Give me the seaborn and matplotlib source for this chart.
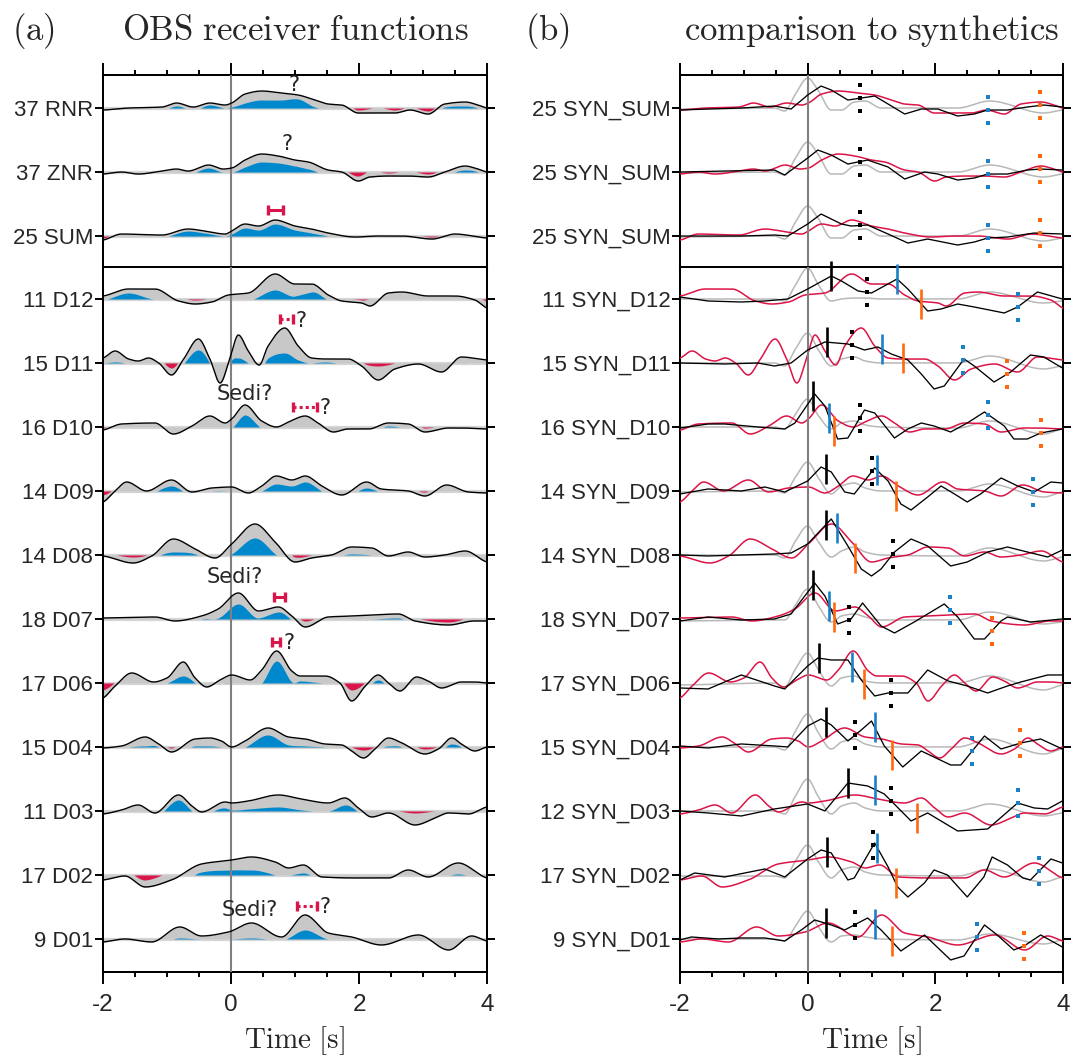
import numpy as np
import pandas as pd
import matplotlib
matplotlib.use("Agg")
import matplotlib.pyplot as plt
import seaborn as sns

# ---------------------------------------------------------------
# Receiver functions (panel a).  Times in s, amplitudes in plot units
# (ROW units = spacing between traces), *_E = confidence half-width.
# ---------------------------------------------------------------
ROW = 64.0

LABELS_A_TOP = ["37 RNR", "37 ZNR", "25 SUM"]
LABELS_A_BOT = ["11 D12", "15 D11", "16 D10", "14 D09", "14 D08", "18 D07",
                "17 D06", "15 D04", "11 D03", "17 D02", "9 D01"]
LABELS_B_TOP = ["25 SYN_SUM", "25 SYN_SUM", "25 SYN_SUM"]
LABELS_B_BOT = ["11 SYN_D12", "15 SYN_D11", "16 SYN_D10", "14 SYN_D09", "14 SYN_D08",
                "18 SYN_D07", "17 SYN_D06", "15 SYN_D04", "12 SYN_D03", "17 SYN_D02",
                "9 SYN_D01"]

RNR_T = [-2.0, -1.60, -1.08, -0.85, -0.59, -0.33, -0.09, 0.01, 0.22, 0.48, 0.79, 1.05, 1.31, 1.52, 1.73, 1.99, 2.30, 2.56, 2.80, 3.08, 3.34, 3.66, 3.86, 4.0]
RNR_A = [-2, 0, 1, 5, 1, 5, 3, 5, 14, 17, 15, 13, 8, 4, 3, -5, -5, -5, -2, -6, 4, 6, 3, 0]
RNR_E = [3, 3, 3, 3, 3, 2, 3, 4, 9, 9, 7, 4, 7, 5, 4, 3, 5.5, 3, 3, 3, 3, 4, 3, 3]

ZNR_T = [-2.0, -1.71, -1.45, -1.08, -0.85, -0.67, -0.35, -0.12, 0.01, 0.22, 0.48, 0.74, 1.0, 1.21, 1.52, 1.73, 1.99, 2.17, 2.46, 2.77, 3.08, 3.34, 3.66, 3.81, 4.0]
ZNR_A = [-2, 0, -2, 1, 3, 1, 7, 3, 4, 12, 18, 16, 12, 10, 2, 0, -9, -5, -4, -4, -5, 0, 6, 4, 0]
ZNR_E = [3, 3, 3, 3, 3, 3, 3, 3, 4, 7, 8, 7, 6, 7, 5, 3, 5, 6, 3, 5, 3, 3, 4, 3, 3]

SUM_T = [-2.0, -1.71, -1.08, -0.67, -0.41, -0.09, 0.01, 0.22, 0.43, 0.69, 1.0, 1.26, 1.52, 1.94, 2.30, 2.67, 3.14, 3.50, 4.0]
SUM_A = [-4, 2, 1, 7, 5, 2, 5, 12, 10, 16, 10, 7, 3, -1, 0, 0, -3, 2, -2]
SUM_E = [2, 2, 2, 2, 2, 2, 3, 4, 4, 4, 4, 4, 3, 3, 3, 3, 2, 2, 2]

D12_T = [-2.0, -1.60, -1.19, -0.82, -0.56, -0.30, -0.04, 0.27, 0.69, 1.0, 1.26, 1.52, 1.73, 2.04, 2.17, 2.46, 2.67, 3.08, 3.50, 3.81, 4.0]
D12_A = [3, 10, 10, -2, -5, -3, 4, 6, 25, 15, 15, 4, -2, -4, -7, 6, 7, 3, 3, -1, -9]
D12_E = [4, 4, 10, 4, 4, 4, 5, 7, 16, 12, 8, 5, 3, 3, 7, 7, 7, 4, 4, 4, 7]

D11_T = [-2.0, -1.81, -1.60, -1.45, -1.29, -1.13, -0.93, -0.74, -0.51, -0.33, -0.17, -0.02, 0.115, 0.27, 0.44, 0.58, 0.84, 1.05, 1.26, 1.47, 1.83, 2.04, 2.30, 2.56, 2.93, 3.29, 3.60, 4.0]
D11_A = [5, 12, 4, 2, 5, 0, -12, 4, 24, 4, -20, 4, 28, 12, -2, 17, 35, 17, 5, 4, 4, -3, -17, -6, -1, -9, 6, 3]
D11_E = [5, 11, 5, 5, 5, 5, 7, 5, 11, 5, 21, 5, 23, 12, 5, 12, 25, 14, 5, 3, 5, 4, 14, 6, 5, 9, 6, 5]

D10_T = [-2.0, -1.71, -1.19, -0.90, -0.61, -0.33, -0.09, 0.01, 0.22, 0.48, 0.71, 0.90, 1.16, 1.36, 1.60, 1.83, 2.15, 2.46, 2.77, 3.03, 3.40, 3.60, 4.0]
D10_A = [-3, 3, 4, -7, 1, 11, 4, 8, 22, 6, 0, 5, 11, 4, -5, -2, -2, 4, 3, -5, -1, -1, -2]
D10_E = [2, 4, 5, 7, 4, 12, 5, 9, 10, 7, 4, 6, 12, 5, 5, 3, 3, 3, 4, 4, 3, 3, 3]

D09_T = [-2.0, -1.81, -1.63, -1.32, -0.93, -0.61, -0.30, 0.01, 0.27, 0.48, 0.71, 0.95, 1.16, 1.42, 1.73, 2.12, 2.35, 2.77, 3.03, 3.37, 3.71, 4.0]
D09_A = [-11, 0, 9, 0, 11, -1, 3, 4, -2, 5, 15, 11, 15, 5, -4, 9, 2, 0, -5, 6, -1, -2]
D09_E = [7, 3, 9, 3, 6, 3, 3, 4, 3, 5, 8, 6, 6, 5, 4, 6, 3, 3, 4, 6, 3, 3]

D08_T = [-2.0, -1.53, -1.24, -0.90, -0.56, -0.25, 0.01, 0.375, 0.69, 1.0, 1.26, 1.57, 1.885, 2.2, 2.46, 2.77, 3.03, 3.34, 3.66, 4.0]
D08_A = [-1, -8, -1, 16, 6, -3, 11, 31, 13, -7, -3, 0, 8, 7, -1, 3, -2, 0, 4, -7]
D08_E = [3, 6, 3, 13, 5, 3, 10, 14, 12, 5, 3, 3, 7, 7, 3, 3, 3, 3, 4, 7]

D07_T = [-2.0, -1.19, -0.875, -0.46, -0.20, 0.115, 0.43, 0.74, 0.95, 1.16, 1.52, 1.885, 2.2, 2.615, 2.875, 3.40, 3.80, 4.0]
D07_A = [1, 2, -2, 3, 10, 26, 8, 12, 3, -8, 2, 3, 4, 5, -2, -6, -2, -2]
D07_E = [2, 2, 3, 3, 9, 11, 7, 5, 4, 6, 3, 3, 4, 4, 3, 3, 4, 4]

D06_T = [-2.0, -1.81, -1.55, -1.21, -1.0, -0.745, -0.56, -0.38, -0.17, 0.01, 0.30, 0.48, 0.714, 0.95, 1.08, 1.47, 1.70, 1.885, 2.1, 2.30, 2.46, 2.64, 2.90, 3.08, 3.29, 3.60, 3.81, 4.0]
D06_A = [-15, -3, 10, 1, 5, 21, 5, -4, 3, 8, 3, 13, 32, 12, 7, 7, 0, -18, -3, 8, 0, -8, 6, 2, -5, 1, 1, 0]
D06_E = [8, 4, 10, 4, 5, 14, 5, 4, 4, 8, 4, 13, 10, 11, 5, 7, 4, 11, 4, 5, 4, 8, 6, 4, 5, 3, 3, 3]

D04_T = [-2.0, -1.71, -1.34, -1.13, -0.93, -0.56, -0.33, -0.15, 0.01, 0.22, 0.58, 0.90, 1.16, 1.47, 1.73, 1.885, 2.07, 2.25, 2.46, 2.67, 3.03, 3.24, 3.45, 3.60, 3.81, 4.0]
D04_A = [-1, 1, 10, 3, -5, 8, 9, 6, 0, 6, 19, 10, 8, 3, 2, -4, -11, -2, 9, 4, -7, -2, 9, 3, -4, 0]
D04_E = [2, 2, 9, 3, 4, 7, 8, 6, 2, 6, 7, 8, 7, 3, 3, 4, 8, 3, 8, 4, 5, 3, 6, 3, 4, 3]

D03_T = [-2.0, -1.71, -1.45, -1.19, -0.82, -0.61, -0.46, -0.09, 0.01, 0.27, 0.74, 1.10, 1.52, 1.78, 1.99, 2.2, 2.46, 2.875, 3.19, 3.40, 3.71, 4.0]
D03_A = [-3, 1, 6, -2, 16, 5, -1, 9, 8, 10, 16, 12, 8, 13, 3, -6, -2, -14, -7, -2, -3, 4]
D03_E = [3, 2, 6, 3, 5, 5, 3, 6, 7, 8, 12, 11, 8, 7, 4, 6, 3, 12, 7, 3, 3, 4]

D02_T = [-2.0, -1.66, -1.34, -0.93, -0.46, 0.01, 0.32, 0.69, 0.90, 1.13, 1.42, 1.94, 2.46, 2.77, 3.08, 3.55, 4.0]
D02_A = [-5, -1, -12, -5, 11, 15, 18, 13, 7, 10, -2, -3, -3, 5, -2, 12, -3]
D02_E = [6, 5, 7, 9, 8, 10, 13, 13, 7, 8, 3, 3, 3, 5, 3, 11, 3]

D01_T = [-2.0, -1.66, -1.24, -0.80, -0.46, -0.04, 0.32, 0.79, 1.156, 1.52, 1.885, 2.35, 2.93, 3.40, 3.76, 4.0]
D01_A = [-3, 0, -3, 12, 3, 7, 16, 2, 24, 6, 2, -6, 4, -11, 3, -2]
D01_E = [3, 3, 3, 11, 3, 7, 15, 3, 15, 6, 3, 6, 4, 11, 3, 3]

# ---------------------------------------------------------------
# Synthetic receiver functions (panel b, black)
# ---------------------------------------------------------------
SYN_SUM1_T = [-2.0, -1.56, -1.04, -0.52, -0.26, 0.0, 0.21, 0.37, 0.63, 0.84, 1.05, 1.26, 1.52, 1.78, 2.04, 2.35, 2.61, 2.82, 3.13, 3.44, 3.70, 3.99]
SYN_SUM1_A = [-2, -1, 0, 2, -1, 13, 22, 18, 8, 10, 12, 4, -6, -1, -1, -8, -6, -2, -2, 1, 3, 1]
SYN_SUM2_T = [-2.0, -1.30, -0.52, -0.36, 0.0, 0.16, 0.37, 0.63, 0.94, 1.26, 1.52, 1.83, 2.04, 2.35, 2.61, 2.82, 3.13, 3.44, 3.65, 3.99]
SYN_SUM2_A = [0, 1, 2, -3, 14, 22, 17, 8, 12, 5, -7, 0, -2, -8, -6, -2, -2, 2, 3, 2]
SYN_SUM3_T = [-2.0, -1.04, -0.52, -0.31, 0.0, 0.21, 0.53, 0.68, 0.94, 1.26, 1.57, 1.88, 2.35, 2.61, 2.82, 3.13, 3.55, 3.99]
SYN_SUM3_A = [0, 0, 1, 0, 12, 22, 12, 10, 11, 2, -7, -3, -9, -6, -2, -1, 3, 2]

SYN_D12_T = [-2.0, -1.56, -1.04, -0.67, -0.31, 0.0, 0.37, 0.53, 0.79, 1.0, 1.20, 1.40, 1.57, 1.88, 2.09, 2.35, 2.61, 3.08, 3.29, 3.60, 3.99]
SYN_D12_A = [2, -2, -3, -2, 0, 10, 23, 18, 8, 6, 13, 20, 10, -12, -10, -5, -8, -14, -8, 7, 0]
SYN_D11_T = [-2.0, -1.30, -0.78, -0.52, -0.26, 0.0, 0.27, 0.63, 0.89, 1.10, 1.31, 1.57, 1.78, 1.98, 2.14, 2.45, 2.61, 2.92, 3.18, 3.49, 3.70, 3.99]
SYN_D11_A = [0, -1, 0, -3, 0, 13, 21, 19, 13, 16, 9, 3, -11, -26, -23, 4, -3, -19, -9, 8, 6, -5]
SYN_D10_T = [-2.0, -1.56, -1.30, -0.78, -0.36, -0.20, 0.11, 0.27, 0.47, 0.63, 0.89, 1.05, 1.36, 1.57, 1.78, 1.98, 2.24, 2.50, 2.77, 3.08, 3.23, 3.44, 3.65, 3.99]
SYN_D10_A = [-1, 3, 3, 0, -2, 4, 33, 21, -12, -11, 17, 14, -11, -2, 4, 1, -5, 4, 15, 1, -12, -12, -6, -2]
SYN_D09_T = [-2.0, -1.56, -1.04, -0.67, -0.36, 0.0, 0.21, 0.37, 0.58, 0.73, 1.05, 1.26, 1.46, 1.62, 1.88, 2.09, 2.30, 2.50, 2.71, 3.03, 3.29, 3.55, 3.81, 3.99]
SYN_D09_A = [-3, 2, 0, 4, -1, 10, 24, 19, -1, -3, 23, 10, -13, -19, -6, 5, -3, -11, -3, 13, 5, -1, 9, 8]
SYN_D08_T = [-2.0, -1.56, -1.04, -0.52, -0.26, 0.0, 0.37, 0.63, 0.84, 1.0, 1.15, 1.36, 1.62, 1.88, 2.24, 2.50, 2.82, 3.13, 3.44, 3.76, 3.99]
SYN_D08_A = [0, -1, 0, 1, 2, 11, 36, 9, -14, -21, -14, 3, 16, 9, -11, -7, 3, 8, 3, -2, 5]
SYN_D07_T = [-2.0, -1.56, -1.04, -0.52, -0.26, 0.11, 0.27, 0.47, 0.68, 0.86, 1.15, 1.36, 1.67, 2.14, 2.35, 2.61, 2.77, 3.03, 3.13, 3.49, 3.99]
SYN_D07_A = [-2, 2, -1, 0, 5, 36, 23, -5, 0, 16, -7, -14, -3, 15, 2, -20, -20, -2, 2, -3, 0]
SYN_D06_T = [-2.0, -1.56, -1.04, -0.52, -0.36, 0.0, 0.16, 0.37, 0.63, 0.84, 1.05, 1.26, 1.57, 1.88, 2.20, 2.50, 2.82, 3.13, 3.34, 3.76, 3.99]
SYN_D06_A = [-5, -6, 8, -3, -6, 17, 25, 23, 23, 3, -13, -10, -10, 13, 2, -3, -10, -3, 1, 8, 8]
SYN_D04_T = [-2.0, -1.56, -1.04, -0.52, -0.31, 0.0, 0.21, 0.37, 0.63, 0.84, 1.0, 1.20, 1.49, 1.78, 2.24, 2.40, 2.77, 3.03, 3.34, 3.65, 3.99]
SYN_D04_A = [1, -1, 3, 1, 0, 21, 28, 22, 6, 17, 26, 1, -20, -4, -18, -18, 11, -2, 4, 8, -2]
SYN_D03_T = [-2.0, -1.56, -1.04, -0.52, 0.0, 0.27, 0.63, 0.94, 1.20, 1.62, 1.88, 2.35, 2.82, 3.29, 3.55, 3.76, 3.99]
SYN_D03_A = [0, -2, -5, 2, 7, 0, 28, 25, 17, -10, -2, -20, -18, 8, 3, 2, 10]
SYN_D02_T = [-2.0, -1.77, -1.30, -0.67, -0.36, 0.0, 0.21, 0.37, 0.63, 0.73, 1.05, 1.26, 1.41, 1.57, 1.83, 1.98, 2.19, 2.50, 2.76, 2.89, 3.13, 3.37, 3.49, 3.81, 3.99]
SYN_D02_A = [-5, 2, -2, 6, -2, 16, 25, 22, -5, -3, 32, 8, -12, -22, -8, 5, 0, -22, -2, 18, 10, -3, -5, 16, 12]
SYN_D01_T = [-2.0, -1.82, -1.40, -1.04, -0.67, -0.36, -0.10, 0.11, 0.37, 0.58, 0.94, 1.15, 1.46, 1.83, 2.24, 2.45, 2.77, 2.97, 3.23, 3.39, 3.65, 3.99]
SYN_D01_A = [-1, 2, 0, 1, 1, -2, 9, 19, 14, 9, 21, 9, -12, 4, -21, -17, 14, 4, -11, -7, 4, -8]

# Reference synthetics (panel b, gray), common time samples
GRAY_T = [-2.0, -0.52, -0.36, -0.20, 0.0, 0.16, 0.37, 0.53, 0.73, 0.90, 1.15, 2.35, 2.85, 3.70, 3.99]
GRAY_SUM = [-1, 0, -3, 13, 30, 18, -2, -2, 6, 7, 0, 0, 7, -5, -2]
GRAY_D12 = [0, 0, -2, 13, 31, 15, -2, 0, 1, 1, 0, 0, 7, -4, -2]
GRAY_D11 = [0, 0, -3, 13, 30, 14, -3, 4, 6, 2, 0, 0, 7, -6, -3]
GRAY_D10 = [0, 0, -2, 12, 28, 12, -2, 4, 6, 2, 0, -1, 6, -7, -2]
GRAY_D09 = [-1, 0, -2, 13, 29, 14, -3, 5, 8, 3, 0, 0, 7, -6, -1]
GRAY_D08 = [0, 0, -3, 13, 29, 14, -2, 4, 8, 3, 0, -1, 7, -6, -2]
GRAY_D07 = [-2, -1, -1, 13, 30, 14, -3, 3, 5, 2, -1, -1, 7, -5, -3]
GRAY_D06 = [-2, 0, -4, 13, 30, 14, -3, 5, 7, 2, 0, 0, 7, -7, -2]
GRAY_D04 = [0, 0, -3, 15, 33, 15, -2, 5, 8, 3, 0, 0, 8, -7, -2]
GRAY_D03 = [0, 0, -3, 14, 32, 15, -3, 5, 8, 3, 0, 0, 7, -5, -2]
GRAY_D02 = [-1, -1, -3, 13, 30, 14, -3, 5, 8, 3, 0, -1, 6, -7, -2]
GRAY_D01 = [0, 0, -2, 12, 28, 13, -3, 3, 4, 2, 0, -1, 5, -5, -1]

# Phase picks on the synthetics (s); nan = no pick
NA = np.nan
BAR_K_TOP = [NA, NA, NA]
BAR_B_TOP = [NA, NA, NA]
BAR_O_TOP = [NA, NA, NA]
DOT_K_TOP = [0.82, 0.82, 0.82]
DOT_B_TOP = [2.82, 2.82, 2.82]
DOT_O_TOP = [3.64, 3.64, 3.64]
BAR_K_BOT = [0.37, 0.31, 0.09, 0.29, 0.28, 0.09, 0.18, 0.28, 0.63, 0.30, 0.28]
BAR_B_BOT = [1.40, 1.17, 0.34, 1.09, 0.46, 0.34, 0.70, 1.05, 1.06, 1.09, 1.05]
BAR_O_BOT = [1.78, 1.49, 0.42, 1.39, 0.74, 0.42, 0.89, 1.32, 1.71, 1.38, 1.32]
DOT_K_BOT = [0.93, 0.69, 0.82, 1.01, 1.34, 0.65, 1.31, 0.74, 1.31, 1.03, 0.74]
DOT_B_BOT = [3.29, 2.44, 2.83, 3.53, NA, 2.23, NA, 2.58, 3.29, 3.63, 2.65]
DOT_O_BOT = [NA, 3.13, 3.65, NA, NA, 2.89, NA, 3.32, NA, NA, 3.39]

# ---------------------------------------------------------------
C_FILL = "#c8c8c8"
C_STRIP = "#d6d6d6"
C_BLUE = "#0088cc"
C_RED = "#d9164a"
C_LINE_RED = "#dc1446"
C_SYN_GRAY = "#b8b8b8"
C_PICK_BLUE = "#1a80c8"
C_PICK_ORANGE = "#ff6a10"
C_ZERO = "#808080"

SANS = ["Liberation Sans", "DejaVu Sans"]

sns.set_theme(style="ticks")
plt.rcParams["font.family"] = SANS
plt.rcParams["mathtext.fontset"] = "cm"
plt.rcParams["axes.unicode_minus"] = False


def pchip(x, y, xn):
    """Shape-preserving cubic through the given samples."""
    x = np.asarray(x, float)
    y = np.asarray(y, float)
    h = np.diff(x)
    d = np.diff(y) / h
    m = np.zeros_like(y)
    for k in range(1, len(y) - 1):
        if d[k - 1] * d[k] > 0:
            w1 = 2 * h[k] + h[k - 1]
            w2 = h[k] + 2 * h[k - 1]
            m[k] = (w1 + w2) / (w1 / d[k - 1] + w2 / d[k])
    m[0] = d[0] * 0.5
    m[-1] = d[-1] * 0.5
    idx = np.clip(np.searchsorted(x, xn) - 1, 0, len(h) - 1)
    s = (xn - x[idx]) / h[idx]
    h00 = 2 * s**3 - 3 * s**2 + 1
    h10 = s**3 - 2 * s**2 + s
    h01 = -2 * s**3 + 3 * s**2
    h11 = s**3 - s**2
    return h00 * y[idx] + h10 * h[idx] * m[idx] + h01 * y[idx + 1] + h11 * h[idx] * m[idx + 1]


def draw_rf(ax, row, t, a, e):
    tt = np.linspace(t[0], t[-1], 1500)
    amp = pchip(t, a, tt)
    err = pchip(t, e, tt)
    lo = np.clip(amp - err, 0, None)
    hi = np.clip(amp + err, None, 0)
    y = row - amp / ROW
    ax.plot([-2, 4], [row, row], color=C_STRIP, lw=2.3, zorder=1, solid_capstyle="butt")
    ax.fill_between(tt, row, y, color=C_FILL, lw=0, zorder=1.2)
    ax.fill_between(tt, row, row - lo / ROW, color=C_BLUE, lw=0, zorder=1.4)
    ax.fill_between(tt, row, row - hi / ROW, color=C_RED, lw=0, zorder=1.4)
    sns.lineplot(x=tt, y=y, ax=ax, color="black", lw=1.0, sort=False,
                 estimator=None, zorder=4)


def draw_syn(ax, row, obs, syn, gray):
    tg = np.linspace(GRAY_T[0], GRAY_T[-1], 800)
    sns.lineplot(x=tg, y=row - pchip(GRAY_T, gray, tg) / ROW, ax=ax, color=C_SYN_GRAY,
                 lw=1.1, sort=False, estimator=None, zorder=2)
    to = np.linspace(obs[0][0], obs[0][-1], 1500)
    sns.lineplot(x=to, y=row - pchip(obs[0], obs[1], to) / ROW, ax=ax, color=C_LINE_RED,
                 lw=1.1, sort=False, estimator=None, zorder=3)
    st = np.asarray(syn[0], float)
    sa = np.asarray(syn[1], float)
    sns.lineplot(x=st, y=row - sa / ROW, ax=ax, color="black", lw=0.95, sort=False,
                 estimator=None, zorder=4)
    return st, sa


def draw_picks(ax, row, st, sa, bars, dots):
    half = 15.0 / ROW
    for tb, col in bars:
        if np.isfinite(tb):
            c = row - np.interp(tb, st, sa) / ROW
            ax.plot([tb, tb], [c - half, c + half], color=col, lw=1.9,
                    solid_capstyle="butt", zorder=5, clip_on=False)
    for td, col in dots:
        if np.isfinite(td):
            c = row - np.interp(td, st, sa) / ROW
            ax.plot([td] * 3, [c - 13 / ROW, c, c + 13 / ROW], ls="none", marker="s",
                    ms=2.5, mew=0, color=col, zorder=5, clip_on=False)


def style_axes(ax, labels, top, n_rows):
    ax.set_xlim(-2, 4)
    if top:
        ax.set_ylim(n_rows - 0.516, -0.516)
    else:
        ax.set_ylim(n_rows - 0.484, -0.5)
    ax.set_yticks(range(n_rows))
    ax.set_yticklabels(labels)
    ax.set_xticks([-2, 0, 2, 4])
    ax.set_xticks(np.arange(-2, 4.01, 0.5), minor=True)
    ax.tick_params(axis="y", which="both", direction="out", length=5.5, width=1.4,
                   left=True, right=True, labelleft=True, labelright=False,
                   labelsize=16, pad=1.5, color="black")
    ax.tick_params(axis="x", which="major", direction="out", length=8.6, width=1.4,
                   top=top, bottom=not top, labeltop=False, labelbottom=not top,
                   labelsize=17.5, pad=7, color="black")
    ax.tick_params(axis="x", which="minor", direction="out", length=3.6, width=1.4,
                   top=top, bottom=not top, color="black")
    ax.tick_params(axis="y", which="minor", left=False, right=False)
    for sp in ax.spines.values():
        sp.set_visible(True)
        sp.set_linewidth(1.45)
        sp.set_color("black")
    ax.set_facecolor("white")
    ax.axvline(0, color=C_ZERO, lw=1.5, zorder=3.5)
    ax.set_xlabel("")
    ax.set_ylabel("")


W, H = 1083, 1063
fig = plt.figure(figsize=(W / 100, H / 100), dpi=100)
fig.patch.set_facecolor("white")

xa0, xa1 = 103, 487
xb0, xb1 = 680, 1063
ytop0, ysep, ybot = 75, 267, 972


def add_ax(x0, x1, y0, y1):
    return fig.add_axes([x0 / W, 1 - y1 / H, (x1 - x0) / W, (y1 - y0) / H])


ax_at = add_ax(xa0, xa1, ytop0, ysep)
ax_ab = add_ax(xa0, xa1, ysep, ybot)
ax_bt = add_ax(xb0, xb1, ytop0, ysep)
ax_bb = add_ax(xb0, xb1, ysep, ybot)

obs_top = [(RNR_T, RNR_A, RNR_E), (ZNR_T, ZNR_A, ZNR_E), (SUM_T, SUM_A, SUM_E)]
obs_bot = [(D12_T, D12_A, D12_E), (D11_T, D11_A, D11_E), (D10_T, D10_A, D10_E),
           (D09_T, D09_A, D09_E), (D08_T, D08_A, D08_E), (D07_T, D07_A, D07_E),
           (D06_T, D06_A, D06_E), (D04_T, D04_A, D04_E), (D03_T, D03_A, D03_E),
           (D02_T, D02_A, D02_E), (D01_T, D01_A, D01_E)]
syn_top = [(SYN_SUM1_T, SYN_SUM1_A), (SYN_SUM2_T, SYN_SUM2_A), (SYN_SUM3_T, SYN_SUM3_A)]
syn_bot = [(SYN_D12_T, SYN_D12_A), (SYN_D11_T, SYN_D11_A), (SYN_D10_T, SYN_D10_A),
           (SYN_D09_T, SYN_D09_A), (SYN_D08_T, SYN_D08_A), (SYN_D07_T, SYN_D07_A),
           (SYN_D06_T, SYN_D06_A), (SYN_D04_T, SYN_D04_A), (SYN_D03_T, SYN_D03_A),
           (SYN_D02_T, SYN_D02_A), (SYN_D01_T, SYN_D01_A)]
gray_top = [GRAY_SUM, GRAY_SUM, GRAY_SUM]
gray_bot = [GRAY_D12, GRAY_D11, GRAY_D10, GRAY_D09, GRAY_D08, GRAY_D07, GRAY_D06,
            GRAY_D04, GRAY_D03, GRAY_D02, GRAY_D01]

# --- panel (a)
for i, (t, a, e) in enumerate(obs_top):
    draw_rf(ax_at, i, t, a, e)
for i, (t, a, e) in enumerate(obs_bot):
    draw_rf(ax_ab, i, t, a, e)

# --- panel (b)
picks_top = list(zip(BAR_K_TOP, BAR_B_TOP, BAR_O_TOP, DOT_K_TOP, DOT_B_TOP, DOT_O_TOP))
picks_bot = list(zip(BAR_K_BOT, BAR_B_BOT, BAR_O_BOT, DOT_K_BOT, DOT_B_BOT, DOT_O_BOT))
for ax, obs, syn, gray, picks in [(ax_bt, obs_top, syn_top, gray_top, picks_top),
                                  (ax_bb, obs_bot, syn_bot, gray_bot, picks_bot)]:
    for i in range(len(obs)):
        st, sa = draw_syn(ax, i, obs[i], syn[i], gray[i])
        bk, bb, bo, dk, db, do = picks[i]
        draw_picks(ax, i, st, sa,
                   [(bk, "black"), (bb, C_PICK_BLUE), (bo, C_PICK_ORANGE)],
                   [(dk, "black"), (db, C_PICK_BLUE), (do, C_PICK_ORANGE)])

style_axes(ax_at, LABELS_A_TOP, True, 3)
style_axes(ax_ab, LABELS_A_BOT, False, 11)
style_axes(ax_bt, LABELS_B_TOP, True, 3)
style_axes(ax_bb, LABELS_B_BOT, False, 11)

# --- annotations on panel (a): interval markers and remarks
ANN_FONT = dict(family="DejaVu Sans", fontsize=15, ha="center", va="center", zorder=6)


def interval(ax, row, t0, t1, off, dotted):
    y = row - off / ROW
    cap = 5.0 / ROW
    ax.plot([t0, t1], [y, y], color=C_RED, lw=2.2, zorder=6,
            ls=(0, (1, 1)) if dotted else "-", solid_capstyle="butt")
    for tc in (t0, t1):
        ax.plot([tc, tc], [y - cap, y + cap], color=C_RED, lw=2.4, zorder=6,
                solid_capstyle="butt")


ax_at.text(0.98, 0 - 23 / ROW, "?", **ANN_FONT)
ax_at.text(0.87, 1 - 28 / ROW, "?", **ANN_FONT)
interval(ax_at, 2, 0.58, 0.82, 26, False)

interval(ax_ab, 1, 0.77, 0.97, 44, True)
ax_ab.text(1.10, 1 - 42 / ROW, "?", **ANN_FONT)
ax_ab.text(0.22, 2 - 33 / ROW, "Sedi?", **ANN_FONT)
interval(ax_ab, 2, 0.97, 1.34, 20, True)
ax_ab.text(1.47, 2 - 19 / ROW, "?", **ANN_FONT)
ax_ab.text(0.06, 5 - 42 / ROW, "Sedi?", **ANN_FONT)
interval(ax_ab, 5, 0.67, 0.84, 22, False)
interval(ax_ab, 6, 0.64, 0.77, 41, False)
ax_ab.text(0.90, 6 - 40 / ROW, "?", **ANN_FONT)
ax_ab.text(0.30, 10 - 29 / ROW, "Sedi?", **ANN_FONT)
interval(ax_ab, 10, 1.03, 1.34, 33, True)
ax_ab.text(1.47, 10 - 32 / ROW, "?", **ANN_FONT)

# --- axis labels and panel titles
for ax in (ax_ab, ax_bb):
    ax.set_xlabel(r"$\mathrm{Time\ [s]}$", fontsize=21, labelpad=6)

fig.text(12 / W, 1 - 40 / H, r"$\mathrm{(a)}$", fontsize=25, ha="left", va="baseline")
fig.text((xa0 + xa1) / 2 / W, 1 - 40 / H, r"$\mathrm{OBS\ receiver\ functions}$",
         fontsize=25, ha="center", va="baseline")
fig.text(525 / W, 1 - 40 / H, r"$\mathrm{(b)}$", fontsize=25, ha="left", va="baseline")
fig.text((xb0 + xb1) / 2 / W, 1 - 40 / H, r"$\mathrm{comparison\ to\ synthetics}$",
         fontsize=25, ha="center", va="baseline")

fig.savefig("out.png", dpi=100, facecolor="white")
